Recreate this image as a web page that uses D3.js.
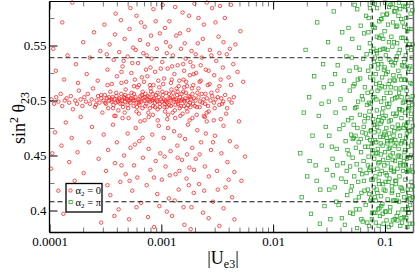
<!DOCTYPE html>
<html><head><meta charset="utf-8">
<script src="https://cdn.jsdelivr.net/npm/d3@7"></script>
<style>html,body{margin:0;padding:0;background:#fff;}svg{display:block;}</style>
</head><body>
<script>
// ---- data ----
const xTickValues = [0.0001, 0.001, 0.01, 0.1];
const xTickLabels = ["0.0001", "0.001", "0.01", "0.1"];
const yTickValues = [0.4, 0.45, 0.5, 0.55];
const yTickLabels = ["0.4", "0.45", "0.5", "0.55"];
const yMinorValues = [0.425, 0.475, 0.525, 0.575];
const hLines = [0.539, 0.408];
const vLines = [0.077, 0.157];
const legendLabels = ["0", "π"];

// alpha2 = 0 (red circles): [|Ue3|, sin^2 theta23]
const redBand = [
[1.04e-4,.501],[1.1e-4,.497],[1.15e-4,.503],[1.2e-4,.499],[1.26e-4,.506],[1.3e-4,.495],[1.37e-4,.500],[1.42e-4,.502],[1.5e-4,.498],[1.55e-4,.504],[1.62e-4,.492],[1.7e-4,.500],[1.76e-4,.497],[1.83e-4,.509],[1.9e-4,.501],[1.97e-4,.495],[2.05e-4,.503],[2.12e-4,.499],[2.2e-4,.506],[2.3e-4,.497],[2.38e-4,.501],[2.45e-4,.511],[2.55e-4,.494],[2.63e-4,.500],[2.72e-4,.504],[2.8e-4,.498],[2.9e-4,.502],[2.97e-4,.489],
[3.05e-4,.500],[3.12e-4,.505],[3.2e-4,.497],[3.28e-4,.502],[3.35e-4,.493],[3.42e-4,.500],[3.5e-4,.508],[3.58e-4,.499],[3.66e-4,.503],[3.73e-4,.496],[3.8e-4,.501],[3.9e-4,.498],[3.97e-4,.504],[4.05e-4,.500],[4.13e-4,.491],[4.2e-4,.502],[4.3e-4,.497],[4.38e-4,.506],[4.46e-4,.500],[4.55e-4,.494],[4.63e-4,.503],[4.72e-4,.499],[4.8e-4,.510],[4.9e-4,.501],[5e-4,.496],[5.1e-4,.504],[5.2e-4,.500],[5.3e-4,.498],[5.42e-4,.507],[5.53e-4,.502],[5.65e-4,.495],[5.77e-4,.500],[5.88e-4,.503],[6e-4,.498],[6.12e-4,.512],[6.25e-4,.501],[6.38e-4,.496],[6.5e-4,.504],[6.63e-4,.499],[6.77e-4,.493],[6.9e-4,.502],[7.05e-4,.500],[7.2e-4,.506],[7.35e-4,.497],[7.5e-4,.501],[7.65e-4,.489],[7.8e-4,.503],[7.95e-4,.499],[8.1e-4,.508],[8.27e-4,.500],[8.43e-4,.495],[8.6e-4,.502],[8.78e-4,.498],[8.95e-4,.505],[9.13e-4,.500],[9.3e-4,.492],[9.5e-4,.503],[9.7e-4,.497],[9.9e-4,.501],
[3.6e-4,.501],[4.1e-4,.499],[4.7e-4,.502],[5.6e-4,.500],[6.3e-4,.498],[7.1e-4,.503],[7.7e-4,.500],[8.4e-4,.501],[9.2e-4,.499],[5.05e-4,.500],[6.7e-4,.505],
[1.01e-3,.499],[1.03e-3,.505],[1.05e-3,.501],[1.07e-3,.494],[1.09e-3,.500],[1.11e-3,.507],[1.13e-3,.498],[1.16e-3,.502],[1.18e-3,.496],[1.21e-3,.500],[1.23e-3,.510],[1.26e-3,.503],[1.29e-3,.499],[1.32e-3,.491],[1.35e-3,.501],[1.38e-3,.505],[1.41e-3,.497],[1.44e-3,.500],[1.47e-3,.503],[1.5e-3,.495],[1.54e-3,.501],[1.57e-3,.508],[1.61e-3,.499],[1.64e-3,.502],[1.68e-3,.493],[1.72e-3,.500],[1.76e-3,.504],[1.8e-3,.498],[1.84e-3,.501],[1.88e-3,.511],[1.92e-3,.497],[1.96e-3,.502],[1.2e-3,.502],[1.4e-3,.499],[1.6e-3,.500],[1.8e-3,.503],[1.1e-3,.499],[1.3e-3,.501],[1.5e-3,.500],
[2.02e-3,.500],[2.08e-3,.494],[2.15e-3,.503],[2.22e-3,.499],[2.3e-3,.506],[2.38e-3,.501],[2.46e-3,.497],[2.55e-3,.502],[2.65e-3,.490],[2.75e-3,.500],[2.85e-3,.504],[2.95e-3,.498],[3.05e-3,.501],[3.17e-3,.509],[3.3e-3,.496],[3.43e-3,.502],[3.57e-3,.499],[3.72e-3,.505],[3.88e-3,.493],[4.05e-3,.501],[4.25e-3,.498],[4.45e-3,.503]
];
const redBandEdge = [
[2.6e-4,.496],[2.9e-4,.505],[3.15e-4,.498],[3.4e-4,.503],[3.7e-4,.493],[3.95e-4,.507],[4.25e-4,.501],[4.5e-4,.497],[4.75e-4,.505],[5.05e-4,.493],[5.35e-4,.502],[5.7e-4,.506],[6.05e-4,.494],[6.4e-4,.500],[6.8e-4,.508],[7.2e-4,.495],[7.55e-4,.504],[7.9e-4,.493],[8.35e-4,.506],[8.8e-4,.494],[9.25e-4,.507],[9.7e-4,.494],[1.02e-3,.508],[1.07e-3,.497],[1.12e-3,.494],[1.17e-3,.506],[1.22e-3,.495],[1.28e-3,.507],[1.34e-3,.496],[1.4e-3,.508],[1.46e-3,.493],[1.52e-3,.506],[1.59e-3,.495],[1.66e-3,.507],[1.74e-3,.496],[1.82e-3,.494],[1.9e-3,.506],[1.99e-3,.495],[2.1e-3,.507],[2.2e-3,.494],[2.33e-3,.498],[2.48e-3,.506],[2.62e-3,.495],[2.8e-3,.507],[3e-3,.493],[3.2e-3,.503],[3.5e-3,.497],
[3.3e-4,.514],[3.8e-4,.486],[4.4e-4,.516],[5.1e-4,.484],[5.7e-4,.513],[6.3e-4,.488],[7e-4,.517],[7.7e-4,.485],[8.5e-4,.514],[9.3e-4,.482],[1.04e-3,.515],[1.15e-3,.487],[1.24e-3,.519],[1.33e-3,.484],[1.43e-3,.513],[1.55e-3,.488],[1.67e-3,.517],[1.79e-3,.482],[1.93e-3,.514],[2.07e-3,.487],[2.25e-3,.518],[2.45e-3,.485],[2.7e-3,.515],[2.95e-3,.482],[3.3e-3,.513],[3.8e-3,.488],[4.2e-3,.514],[1.08e-3,.490],[1.37e-3,.511],[1.71e-3,.490],[2.15e-3,.511],[6e-4,.490],[8e-4,.511],[4.7e-4,.489],[9.6e-4,.512],[1.26e-3,.489],[1.6e-3,.512],[2.55e-3,.489]
];
const redUpper = [
[1.08e-4,.547],[1.14e-4,.527],[1.3e-4,.571],[1.35e-4,.519],[1.45e-4,.541],[1.6e-4,.589],[1.72e-4,.533],[1.8e-4,.516],[2e-4,.553],[2.15e-4,.524],[2.3e-4,.539],[2.5e-4,.562],[2.7e-4,.518],[2.85e-4,.545],
[3.1e-4,.569],[3.3e-4,.528],[3.45e-4,.551],[3.6e-4,.515],[3.75e-4,.537],[3.85e-4,.560],[4e-4,.522],[4.2e-4,.544],[4.35e-4,.573],[4.5e-4,.531],[4.7e-4,.556],[4.85e-4,.517],[5e-4,.540],[5.2e-4,.565],[5.4e-4,.525],[5.6e-4,.548],[5.8e-4,.519],[6e-4,.577],[6.2e-4,.534],[6.45e-4,.555],[6.7e-4,.521],[6.9e-4,.543],[7.1e-4,.567],[7.3e-4,.528],[7.6e-4,.551],[7.9e-4,.514],[8.2e-4,.538],[8.5e-4,.583],[8.8e-4,.526],[9.1e-4,.547],[9.4e-4,.518],[9.7e-4,.561],[6.3e-4,.514],[8e-4,.530],[4.4e-4,.526],[5.5e-4,.534],[7.5e-4,.522],
[1.02e-3,.535],[1.06e-3,.520],[1.1e-3,.553],[1.14e-3,.529],[1.18e-3,.572],[1.22e-3,.516],[1.27e-3,.541],[1.31e-3,.524],[1.36e-3,.559],[1.4e-3,.532],[1.45e-3,.518],[1.5e-3,.547],[1.55e-3,.580],[1.6e-3,.527],[1.65e-3,.538],[1.7e-3,.513],[1.75e-3,.564],[1.8e-3,.523],[1.86e-3,.545],[1.92e-3,.531],[1.98e-3,.588],[1.25e-3,.531],[1.58e-3,.519],[1.82e-3,.535],[1.12e-3,.543],
[2.05e-3,.525],[2.12e-3,.552],[2.2e-3,.517],[2.3e-3,.539],[2.4e-3,.569],[2.5e-3,.528],[2.6e-3,.514],[2.72e-3,.546],[2.85e-3,.584],[2.97e-3,.523],[3.1e-3,.536],[3.25e-3,.558],[3.4e-3,.519],[3.55e-3,.530],[3.7e-3,.575],[3.85e-3,.542],[4e-3,.521],[4.2e-3,.587],[4.4e-3,.533],[4.6e-3,.551],[4.8e-3,.526],[5.1e-3,.563],[5.4e-3,.517],[2.25e-3,.532],[2.65e-3,.527],[3.3e-3,.543],
[3.25e-4,.542],[3.9e-4,.579],[4.6e-4,.536],[5.3e-4,.584],[5.9e-4,.546],[6.6e-4,.571],[7.4e-4,.541],[8.1e-4,.559],[8.9e-4,.572],[9.9e-4,.529],[1.08e-3,.566],[1.2e-3,.549],[1.33e-3,.585],[1.47e-3,.561],[1.62e-3,.552],[1.77e-3,.577],[1.95e-3,.524],[2.15e-3,.575],[2.35e-3,.556],[2.55e-3,.589],[2.8e-3,.541],[3.05e-3,.571],[3.35e-3,.586],[3.6e-3,.553],[4.1e-3,.547],[1.03e-3,.587],[1.57e-3,.533],[2.03e-3,.542]
];
const redLower = [
[1.03e-4,.438],[1.06e-4,.452],[1.12e-4,.471],[1.2e-4,.418],[1.28e-4,.459],[1.33e-4,.397],[1.4e-4,.480],[1.5e-4,.444],[1.58e-4,.466],[1.68e-4,.427],[1.78e-4,.453],[1.9e-4,.485],[2.02e-4,.434],[2.1e-4,.409],[2.25e-4,.462],[2.4e-4,.476],[2.6e-4,.421],[2.75e-4,.447],[2.9e-4,.389],
[3.05e-4,.469],[3.2e-4,.436],[3.35e-4,.455],[3.5e-4,.414],[3.7e-4,.478],[3.85e-4,.443],[4e-4,.462],[4.15e-4,.401],[4.3e-4,.426],[4.5e-4,.484],[4.65e-4,.450],[4.8e-4,.433],[5e-4,.470],[5.15e-4,.392],[5.3e-4,.457],[5.5e-4,.418],[5.7e-4,.441],[5.9e-4,.475],[6.1e-4,.430],[6.35e-4,.463],[6.6e-4,.407],[6.85e-4,.448],[7.1e-4,.482],[7.4e-4,.423],[7.7e-4,.456],[8e-4,.437],[8.3e-4,.469],[8.6e-4,.385],[8.9e-4,.445],[9.2e-4,.415],[9.5e-4,.477],[9.8e-4,.452],[3.9e-4,.486],[6.5e-4,.481],[8.4e-4,.487],[5.8e-4,.460],
[1.01e-3,.428],[1.05e-3,.466],[1.09e-3,.440],[1.13e-3,.483],[1.17e-3,.411],[1.21e-3,.454],[1.25e-3,.395],[1.3e-3,.472],[1.34e-3,.433],[1.39e-3,.459],[1.43e-3,.419],[1.48e-3,.486],[1.53e-3,.446],[1.58e-3,.403],[1.63e-3,.465],[1.68e-3,.429],[1.73e-3,.478],[1.78e-3,.439],[1.83e-3,.383],[1.89e-3,.457],[1.95e-3,.416],[1.15e-3,.475],[1.45e-3,.436],[1.7e-3,.451],[1.9e-3,.484],
[2.03e-3,.447],[2.1e-3,.473],[2.18e-3,.424],[2.27e-3,.462],[2.36e-3,.398],[2.45e-3,.440],[2.55e-3,.481],[2.66e-3,.431],[2.78e-3,.455],[2.9e-3,.408],[3.02e-3,.468],[3.15e-3,.436],[3.3e-3,.386],[3.45e-3,.452],[3.6e-3,.477],[3.75e-3,.421],[3.9e-3,.444],[4.1e-3,.463],[4.3e-3,.412],[4.5e-3,.435],[4.7e-3,.458],[4.95e-3,.481],[5.2e-3,.427],[5.6e-3,.449],[2.4e-3,.486],[3.4e-3,.483],
[3.3e-4,.423],[3.8e-4,.395],[4.4e-4,.441],[5.2e-4,.427],[6e-4,.403],[6.8e-4,.466],[7.6e-4,.394],[8.6e-4,.430],[9.6e-4,.404],[1.07e-3,.449],[1.19e-3,.432],[1.32e-3,.409],[1.46e-3,.468],[1.61e-3,.387],[1.76e-3,.423],[1.96e-3,.437],[2.2e-3,.451],[2.42e-3,.418],[2.65e-3,.393],[2.9e-3,.462],[3.2e-3,.419],[3.6e-3,.402],[4e-3,.428],[4.5e-3,.392],[1.12e-3,.399],[1.4e-3,.448],[1.86e-3,.403],[2.5e-3,.470]
];

// alpha2 = pi (green squares)
const greenLow = [
[.0175,.452],[.018,.412],[.0188,.489],[.0195,.546],[.0202,.431],[.021,.503],[.0218,.397],[.0225,.468],[.0233,.522],[.024,.441],[.0248,.571],[.0256,.486],[.0264,.419],[.0272,.459],[.028,.533],[.0288,.404],[.0295,.476],[.0212,.445],[.0262,.388],[.0284,.512],[.0245,.427],[.0271,.497],
[.0302,.437],[.031,.553],[.0318,.468],[.0325,.392],[.0333,.515],[.034,.447],[.0348,.581],[.0355,.421],[.0362,.489],[.037,.456],[.0378,.532],[.0385,.405],[.0392,.474],[.04,.501],[.0408,.429],[.0415,.562],[.0422,.443],[.043,.518],[.0438,.387],[.0445,.463],[.0452,.540],[.046,.414],[.0468,.482],[.0475,.451],[.0482,.527],[.049,.398],[.0497,.469],[.0315,.499],[.0342,.432],[.0367,.408],[.0395,.547],[.0425,.478],[.0448,.426],[.0472,.566],[.0488,.440],[.0335,.458],[.0358,.524],[.0412,.393],[.0435,.493],[.0462,.455],[.0485,.509],[.0318,.419],[.0375,.441],[.0455,.436],[.0495,.418]
];
const greenMid = [
[.0502,.484],[.0506,.422],[.051,.556],[.0514,.448],[.0518,.397],[.0522,.513],[.0527,.466],[.0531,.431],[.0536,.587],[.054,.493],[.0545,.409],[.0549,.457],[.0554,.530],[.0558,.442],[.0563,.384],[.0567,.475],[.0572,.519],[.0577,.426],[.0582,.462],[.0587,.548],[.0592,.401],[.0597,.487],[.0602,.437],[.0607,.568],[.0612,.453],[.0617,.416],[.0622,.504],[.0628,.471],[.0633,.390],[.0638,.538],[.0644,.445],[.0649,.427],[.0655,.481],[.0661,.512],[.0666,.458],[.0672,.405],[.0678,.577],[.0684,.434],[.0690,.496],[.0696,.466],[.0702,.419],[.0708,.527],[.0714,.449],[.0720,.386],[.0727,.490],[.0733,.552],[.0739,.439],[.0746,.472],[.0752,.411],[.0759,.508],[.0765,.461],[.0772,.589],[.0778,.428],[.0785,.483],[.0792,.398],[.0798,.535],
[.0505,.539],[.0525,.478],[.055,.401],[.0575,.499],[.06,.520],[.0625,.433],[.065,.561],[.0675,.470],[.07,.507],[.0725,.415],[.075,.545],[.0775,.452],[.0795,.421],[.0515,.465],[.0565,.583],[.0615,.392],[.0665,.486],[.0715,.575],[.0765,.398],[.0535,.515],[.0585,.412],[.0635,.501],[.0685,.542],[.0735,.464],[.0785,.519],[.0545,.468],[.0595,.528],[.0645,.476],[.0695,.389],[.0745,.497],[.0556,.494],[.0606,.465],[.0656,.418],[.0706,.458],[.0756,.428],[.0789,.567]
];
const greenHigh = [
[.0802,.447],[.0806,.503],[.081,.412],[.0814,.566],[.0818,.478],[.0822,.431],[.0826,.524],[.083,.389],[.0834,.462],[.0838,.545],[.0842,.419],[.0846,.491],[.085,.584],[.0855,.438],[.0859,.509],[.0863,.456],[.0867,.401],[.0871,.533],[.0876,.472],[.088,.427],[.0884,.557],[.0889,.485],[.0893,.444],[.0897,.516],[.0902,.395],[.0906,.467],[.0911,.538],[.0915,.451],[.092,.413],[.0924,.499],[.0929,.574],[.0934,.436],[.0938,.481],[.0943,.521],[.0948,.406],[.0952,.459],[.0957,.547],[.0962,.424],[.0967,.493],[.0972,.388],[.0977,.528],[.0982,.469],[.0987,.441],[.0992,.563],[.0997,.512],[.1002,.453],[.1008,.418],[.1013,.486],[.1018,.541],[.1024,.399],[.1029,.475],[.1035,.507],[.104,.432],[.1046,.579],[.1051,.461],[.1057,.410],[.1063,.526],[.1068,.448],[.1074,.494],[.108,.385],[.1086,.553],[.1092,.470],[.1098,.429],[.1104,.518],[.111,.457],[.1116,.403],[.1122,.587],[.1128,.482],[.1134,.439],[.114,.535],[.1146,.464],[.1152,.416],[.1159,.501],[.1165,.549],[.1171,.446],[.1178,.391],[.1184,.488],[.119,.523],[.1197,.435],
[.0812,.539],[.0852,.476],[.0891,.402],[.0931,.559],[.0972,.484],[.1011,.426],[.1053,.546],[.1094,.497],[.1137,.387],[.1181,.571],[.0832,.515],[.0873,.443],[.0913,.479],[.0955,.397],[.0995,.530],[.1037,.466],[.1078,.515],[.1119,.450],[.1161,.418],[.1192,.468],
[.1203,.553],[.121,.472],[.1217,.409],[.1224,.518],[.1231,.445],[.1238,.581],[.1245,.486],[.1252,.424],[.1259,.537],[.1266,.461],[.1273,.395],[.1281,.503],[.1288,.568],[.1295,.438],[.1303,.478],[.131,.414],[.1318,.527],[.1325,.456],[.1333,.589],[.1341,.492],[.1348,.431],[.1356,.546],[.1364,.468],[.1372,.386],[.138,.511],[.1388,.449],[.1396,.574],[.1404,.484],[.1412,.420],[.142,.532],[.1429,.463],[.1437,.401],[.1446,.498],[.1454,.557],[.1463,.441],[.1471,.475],[.148,.519],[.1489,.412],[.1498,.453],[.1507,.585],[.1516,.489],[.1525,.428],[.1534,.541],[.1543,.466],[.1552,.393],[.1561,.509],[.157,.447],[.158,.563],[.1589,.480],[.1599,.419],[.1608,.526],[.1618,.458],[.1627,.398],[.1637,.495],[.1647,.551],[.1657,.436],[.1667,.472],[.1677,.405],[.1687,.516],[.1697,.579],[.1707,.450],[.1717,.488],[.1728,.426],[.1738,.539],[.1748,.463],[.1759,.388],[.1769,.504],
[.1207,.436],[.1235,.502],[.1262,.567],[.129,.391],[.1318,.474],[.1346,.522],[.1375,.443],[.1404,.557],[.1433,.418],[.1463,.512],[.1493,.478],[.1523,.401],[.1554,.575],[.1585,.435],[.1616,.491],[.1648,.529],[.168,.411],[.1713,.546],[.1746,.440],[.1775,.477],[.1221,.459],[.1277,.540],[.1336,.408],[.1396,.519],[.1458,.586],[.152,.455],[.1585,.385],[.1652,.493],[.172,.565],[.1765,.422],[.125,.584],[.133,.450],[.141,.393],[.149,.535],[.157,.470],[.165,.413],[.173,.500],[.1235,.427],[.1365,.492],[.1475,.445],[.1595,.548],[.1705,.483],[.1778,.551]
];
const greenEdge = [
[.0703,.441],[.0711,.562],[.0719,.498],[.0726,.437],[.0734,.584],[.0741,.409],[.0749,.473],[.0757,.531],[.0764,.392],[.0772,.455],[.078,.503],[.0788,.547],[.0796,.437],[.0804,.471],[.0813,.588],[.0821,.398],[.0829,.452],[.0838,.501],[.0846,.558],[.0855,.416],[.0864,.529],[.0872,.482],[.0881,.386],[.089,.572],[.0899,.433],[.0908,.546],[.0917,.461],[.0926,.404],[.0936,.513],[.0945,.489],[.0954,.578],[.0964,.446],[.0974,.419],[.0983,.502],[.0993,.471],[.1003,.589],[.1013,.434],[.1023,.524],[.1033,.391],[.1044,.497],[.1054,.443],[.1065,.569],[.1075,.426],[.1086,.481],[.1097,.537],[.1108,.399],[.1119,.507],[.113,.463],[.1141,.558],[.1153,.422],[.1164,.476],[.1176,.532],[.1188,.409],[.12,.519],[.1212,.581],[.1224,.392],[.1236,.464],[.1249,.511],[.1261,.427],[.1274,.488],[.1287,.552],[.13,.449],[.1313,.398],[.1326,.543],[.1339,.507],[.1352,.475],[.1366,.583],[.1379,.421],[.1393,.461],[.1407,.503],[.1421,.389],[.1436,.571],[.145,.436],[.1465,.531],[.1479,.394],[.1494,.499],[.1509,.462],[.1524,.519],[.154,.441],[.1555,.554],[.1571,.409],[.1587,.503],[.1603,.586],[.1619,.437],[.1635,.472],[.1651,.565],[.1668,.388],[.1685,.531],[.1702,.419],[.1719,.459],[.1736,.589],[.1754,.496],[.1772,.435],
[.0708,.484],[.0737,.521],[.0766,.569],[.0795,.478],[.0826,.409],[.0859,.452],[.0893,.511],[.0928,.533],[.0965,.556],[.1005,.399],[.1045,.463],[.1087,.585],[.113,.437],[.1176,.452],[.1222,.534],[.1271,.409],[.1321,.577],[.1374,.441],[.1429,.491],[.1486,.567],[.1545,.477],[.1607,.401],[.1671,.448],[.1738,.515],[.1762,.582],[.1778,.412],
[.0815,.464],[.0849,.543],[.0884,.424],[.0921,.574],[.0959,.467],[.0998,.547],[.1039,.578],[.1082,.456],[.1127,.512],[.1173,.588]
];

// ---- drawing ----
const W = 415, H = 274;
const L = 49.5, R = 413.5, T = 1.5, B = 232.5;
const RED = "#ff1a1a", GREEN = "#2aa52a";
const FONT = "'Liberation Serif','DejaVu Serif',serif";

const x = d3.scaleLog().domain([1e-4, 0.18]).range([L, R]);
const y = d3.scaleLinear().domain([0.38, 0.59]).range([B, T]);

const svg = d3.select("body").append("svg").attr("width", W).attr("height", H)
  .style("font-family", FONT);

const plot = svg.append("g");
const red = redBand.concat(redBandEdge, redUpper, redLower);
const green = greenLow.concat(greenMid, greenHigh, greenEdge);

plot.selectAll("circle.red").data(red).join("circle").attr("class", "red")
  .attr("cx", d => x(d[0])).attr("cy", d => y(d[1])).attr("r", 1.75)
  .attr("fill", "none").attr("stroke", RED).attr("stroke-width", 0.75);

plot.selectAll("rect.green").data(green).join("rect").attr("class", "green")
  .attr("x", d => x(d[0]) - 1.7).attr("y", d => y(d[1]) - 1.7).attr("width", 3.4).attr("height", 3.4)
  .attr("fill", "none").attr("stroke", GREEN).attr("stroke-width", 0.75);

// reference lines
plot.selectAll("line.h").data(hLines).join("line").attr("class", "h")
  .attr("x1", L).attr("x2", R).attr("y1", d => y(d)).attr("y2", d => y(d))
  .attr("stroke", (d, i) => i === 0 ? "#555" : "#111").attr("stroke-width", 1.1)
  .attr("stroke-dasharray", "5,3");
plot.selectAll("line.v").data(vLines).join("line").attr("class", "v")
  .attr("y1", T).attr("y2", B).attr("x1", d => x(d)).attr("x2", d => x(d))
  .attr("stroke", "#111").attr("stroke-width", 1.1).attr("stroke-dasharray", "4,3");

// minor ticks
const xMinor = x.ticks().filter(v => !xTickValues.some(m => Math.abs(m - v) / m < 1e-6));
const minorColor = "#777";
function xMinorAxis(g, orient) {
  g.call(orient(x).tickValues(xMinor).tickSize(-5).tickFormat(""))
   .call(s => s.select(".domain").remove())
   .call(s => s.selectAll("line").attr("stroke", minorColor));
}
function yMinorAxis(g, orient) {
  g.call(orient(y).tickValues(yMinorValues).tickSize(-5).tickFormat(""))
   .call(s => s.select(".domain").remove())
   .call(s => s.selectAll("line").attr("stroke", minorColor));
}
svg.append("g").attr("transform", `translate(0,${B})`).call(g => xMinorAxis(g, d3.axisBottom));
svg.append("g").attr("transform", `translate(0,${T})`).call(g => xMinorAxis(g, d3.axisTop));
svg.append("g").attr("transform", `translate(${L},0)`).call(g => yMinorAxis(g, d3.axisLeft));
svg.append("g").attr("transform", `translate(${R},0)`).call(g => yMinorAxis(g, d3.axisRight));

// major axes
const xb = svg.append("g").attr("transform", `translate(0,${B})`)
  .call(d3.axisBottom(x).tickValues(xTickValues).tickSize(-8).tickPadding(4.5)
    .tickFormat((d, i) => xTickLabels[i]));
xb.select(".domain").remove();
xb.selectAll("text").attr("font-size", 13).attr("font-family", FONT).attr("fill", "#000");
const xt = svg.append("g").attr("transform", `translate(0,${T})`)
  .call(d3.axisTop(x).tickValues(xTickValues).tickSize(-8).tickFormat(""));
xt.select(".domain").remove();

const yl = svg.append("g").attr("transform", `translate(${L},0)`)
  .call(d3.axisLeft(y).tickValues(yTickValues).tickSize(-8).tickPadding(3)
    .tickFormat((d, i) => yTickLabels[i]));
yl.select(".domain").remove();
yl.selectAll("text").attr("font-size", 13).attr("font-family", FONT).attr("fill", "#000");
const yr = svg.append("g").attr("transform", `translate(${R},0)`)
  .call(d3.axisRight(y).tickValues(yTickValues).tickSize(-8).tickFormat(""));
yr.select(".domain").remove();

// frame
svg.append("line").attr("x1", L).attr("x2", R).attr("y1", B).attr("y2", B).attr("stroke", "#000").attr("stroke-width", 1.3);
svg.append("line").attr("x1", L).attr("x2", L).attr("y1", T).attr("y2", B).attr("stroke", "#000").attr("stroke-width", 1.3);
svg.append("line").attr("x1", L).attr("x2", R).attr("y1", T).attr("y2", T).attr("stroke", "#000").attr("stroke-width", 1);
svg.append("line").attr("x1", R).attr("x2", R).attr("y1", T).attr("y2", B).attr("stroke", "#666").attr("stroke-width", 1.5);

// axis titles
const xTitle = svg.append("text").attr("x", 223).attr("y", 264).attr("text-anchor", "middle")
  .attr("font-size", 18).attr("fill", "#000");
xTitle.append("tspan").text("|U");
xTitle.append("tspan").attr("font-size", 12).attr("dy", 4).text("e3");
xTitle.append("tspan").attr("dy", -4).text("|");

const yTitle = svg.append("text").attr("transform", "translate(25,118) rotate(-90)")
  .attr("text-anchor", "middle").attr("font-size", 18).attr("fill", "#000");
yTitle.append("tspan").text("sin");
yTitle.append("tspan").attr("font-size", 12).attr("dy", -7).text("2");
yTitle.append("tspan").attr("dy", 7).text(" θ");
yTitle.append("tspan").attr("font-size", 12).attr("dy", 4).text("23");

// legend
const lg = svg.append("g");
lg.append("rect").attr("x", 66).attr("y", 183.5).attr("width", 36).attr("height", 28.5)
  .attr("fill", "#fff").attr("stroke", "#000").attr("stroke-width", 1.3);
lg.append("circle").attr("cx", 70.5).attr("cy", 190.5).attr("r", 1.7)
  .attr("fill", "none").attr("stroke", RED).attr("stroke-width", 0.8);
lg.append("rect").attr("x", 69).attr("y", 200.5).attr("width", 3.2).attr("height", 3.2)
  .attr("fill", "none").attr("stroke", GREEN).attr("stroke-width", 0.8);
legendLabels.forEach((lab, i) => {
  const t = lg.append("text").attr("x", 75.5).attr("y", 194 + i * 12).attr("font-size", 10.5).attr("fill", "#000");
  t.append("tspan").text("α");
  t.append("tspan").attr("font-size", 7).attr("dy", 2).text("2");
  t.append("tspan").attr("dy", -2).text(" = " + lab);
});
</script>
</body></html>
